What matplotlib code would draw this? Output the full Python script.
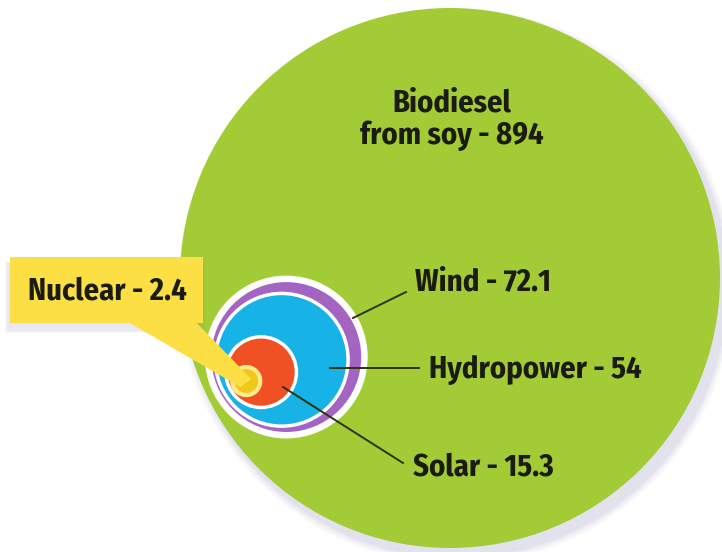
import matplotlib.pyplot as plt
from matplotlib.patches import Circle, FancyBboxPatch, Polygon
import numpy as np

# Data: land use per energy source (values as printed on the chart)
sources = ['Biodiesel\nfrom soy', 'Wind', 'Hydropower', 'Solar', 'Nuclear']
values = [894, 72.1, 54, 15.3, 2.4]
colors = ['#a2cb36', '#a465c2', '#17b2e6', '#ef5125', '#f3c61a']

W, H = 722, 552
fig = plt.figure(figsize=(W / 100, H / 100), dpi=100)
ax = fig.add_axes([0, 0, 1, 1])
ax.set_xlim(0, W)
ax.set_ylim(H, 0)
ax.set_aspect('equal')
ax.axis('off')

# radius scaled so circle area is proportional to value
big_r = 270
radii = [big_r * np.sqrt(v / values[0]) for v in values]

# big circle with soft shadow
big_c = (450, 278)
for i, a in enumerate([0.05, 0.06, 0.07, 0.08]):
    ax.add_patch(Circle((big_c[0] + 6, big_c[1] + 8), big_r + 8 - 2 * i,
                        color='#8a8ab8', alpha=a, lw=0, zorder=1))
ax.add_patch(Circle(big_c, big_r, color=colors[0], lw=0, zorder=2))

# small circles nested toward a common lower-left point
anchor = np.array([218.0, 398.0])
u = np.array([0.857, -0.514])
insets = [3, 8, 15, 19]
for k, (r, ins) in enumerate(zip(radii[1:], insets)):
    c = anchor + u * (r + ins)
    ax.add_patch(Circle(c, r, facecolor=colors[k + 1], edgecolor='white',
                        lw=2.5, zorder=3 + k))
    if k == 0:
        ax.add_patch(Circle(c, r + 3, facecolor='none', edgecolor='white',
                            lw=2.5, zorder=3))
nuc_c = anchor + u * (radii[4] + insets[3])
ax.add_patch(Circle(nuc_c, radii[4], facecolor=colors[4], edgecolor='#fbe98a',
                    lw=3, zorder=7))

font = dict(family=['Fira Sans Condensed', 'Asap Condensed', 'PT Sans Narrow',
                    'Saira SemiCondensed', 'DejaVu Sans'],
            fontweight='bold', color='#1b1b12')

# Biodiesel label
ax.text(452, 120, f'{sources[0]} - {values[0]:g}', ha='center', va='center',
        fontsize=22, linespacing=1.1, zorder=10, **font)

# leader lines and labels
line_col = '#2b3412'
ax.plot([353, 406], [318, 292], color=line_col, lw=1.4, zorder=9)
ax.text(415, 282, f'{sources[1]} - {values[1]:g}', ha='left', va='center',
        fontsize=22, zorder=10, **font)
ax.plot([330, 419], [368, 368], color=line_col, lw=1.4, zorder=9)
ax.text(429, 370, f'{sources[2]} - {values[2]:g}', ha='left', va='center',
        fontsize=22, zorder=10, **font)
ax.plot([283, 403], [387, 463], color=line_col, lw=1.4, zorder=9)
ax.text(413, 467, f'{sources[3]} - {values[3]:g}', ha='left', va='center',
        fontsize=22, zorder=10, **font)

# Nuclear callout box
for i, a in enumerate([0.05, 0.07, 0.09]):
    ax.add_patch(FancyBboxPatch((8 - 3 + i, 262 - 1 + i), 200 - 2 * i, 72 - 2 * i,
                                boxstyle='square,pad=0', color='#9090c0',
                                alpha=a, lw=0, zorder=8))
ax.add_patch(Polygon([[128, 322], [190, 316], [nuc_c[0] + 5, nuc_c[1] - 2],
                      [nuc_c[0] - 6, nuc_c[1] + 6]],
                     closed=True, color='#fbdf45', lw=0, zorder=8))
ax.add_patch(FancyBboxPatch((10, 257), 193, 66, boxstyle='square,pad=0',
                            color='#fbdf45', lw=0, zorder=9))
ax.text(107, 291, f'{sources[4]} - {values[4]:g}', ha='center', va='center',
        fontsize=22, zorder=10, **font)

plt.savefig('out.png', dpi=100)
